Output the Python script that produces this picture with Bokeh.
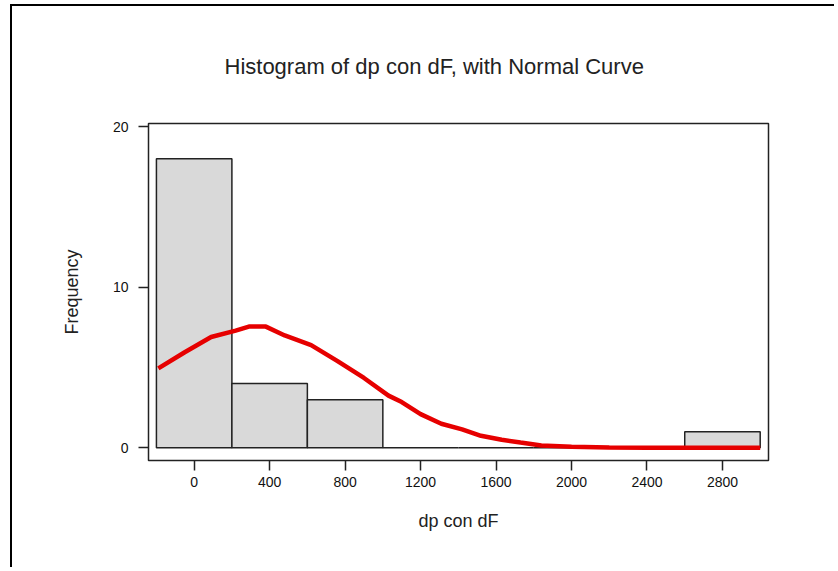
from bokeh.plotting import figure
from bokeh.models import Range1d, Title, FixedTicker
from bokeh.embed import file_html
from bokeh.resources import INLINE

# Histogram bins (midpoints) and counts
bin_mids = [0, 400, 800, 1200, 1600, 2000, 2400, 2800]
counts = [18, 4, 3, 0, 0, 0, 0, 1]
bin_width = 400

# Normal curve
curve_x = [-190, -50, 90, 220, 290, 380, 480, 620, 760, 900, 1030, 1100, 1200,
           1310, 1420, 1520, 1630, 1730, 1840, 2000, 2200, 2400, 2700, 3000]
curve_y = [4.95, 5.95, 6.9, 7.3, 7.55, 7.55, 7.0, 6.4, 5.4, 4.35, 3.25, 2.85, 2.1,
           1.5, 1.15, 0.75, 0.5, 0.33, 0.15, 0.07, 0.02, 0.0, 0.0, 0.0]

x_ticks = [0, 400, 800, 1200, 1600, 2000, 2400, 2800]
y_ticks = [0, 10, 20]

FONT = "Liberation Sans"

p = figure(width=824, height=563, output_backend="svg", toolbar_location=None,
           x_range=Range1d(-242, 3044), y_range=Range1d(-0.79, 20.2),
           min_border_left=136, min_border_right=68, min_border_top=117,
           min_border_bottom=109)
p.styles = {"border-left": "2px solid black", "border-top": "2px solid black",
            "margin-left": "10px", "margin-top": "4px"}
p.background_fill_color = "white"
p.border_fill_color = "white"
p.outline_line_color = "#222222"
p.outline_line_width = 1.5
p.grid.visible = False

lefts = [m - bin_width / 2 for m in bin_mids]
rights = [m + bin_width / 2 for m in bin_mids]
p.quad(left=lefts, right=rights, bottom=[0] * len(counts), top=counts,
       fill_color="#d9d9d9", line_color="#222222", line_width=1.5)

p.line(curve_x, curve_y, line_color="#e60000", line_width=4.5)

for ax in (p.xaxis[0], p.yaxis[0]):
    ax.axis_line_color = None
    ax.minor_tick_line_color = None
    ax.major_tick_line_color = "#222222"
    ax.major_tick_line_width = 1.5
    ax.major_tick_in = 0
    ax.major_tick_out = 10
    ax.major_label_text_font = FONT
    ax.major_label_text_font_size = "14px"
    ax.major_label_text_color = "#111111"
    ax.axis_label_text_font = FONT
    ax.axis_label_text_font_size = "18px"
    ax.axis_label_text_font_style = "normal"
    ax.axis_label_text_color = "#222222"

p.xaxis.ticker = FixedTicker(ticks=x_ticks)
p.yaxis.ticker = FixedTicker(ticks=y_ticks)
p.xaxis.major_label_standoff = 6
p.yaxis.major_label_standoff = 10
p.xaxis.axis_label = "dp con dF"
p.yaxis.axis_label = "Frequency"
p.xaxis.axis_label_standoff = 21
p.yaxis.axis_label_standoff = 28

title = Title(text="Histogram of dp con dF, with Normal Curve", align="left",
              offset=76, standoff=89, text_font=FONT, text_font_size="22px",
              text_font_style="normal", text_color="#222222")
p.add_layout(title, "above")

open("out.html", "w").write(file_html(p, INLINE))
